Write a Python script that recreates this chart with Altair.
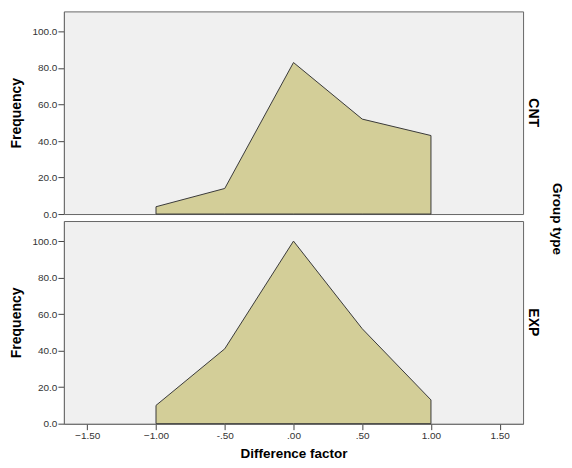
import altair as alt
import pandas as pd

# Data
diff_values = [-1.0, -0.5, 0.0, 0.5, 1.0]
cnt_freq = [4, 14, 83, 52, 43]
exp_freq = [10, 41, 100, 52, 13]
group_names = ["CNT", "EXP"]
x_ticks = [-1.5, -1.0, -0.5, 0.0, 0.5, 1.0, 1.5]
y_ticks = [0, 20, 40, 60, 80, 100]

rows = []
for g, series in zip(group_names, [cnt_freq, exp_freq]):
    for xv, yv in zip(diff_values, series):
        rows.append({"group": g, "diff": xv, "freq": yv})
df = pd.DataFrame(rows)

FONT = "Liberation Sans"

label_expr = (
    "datum.value == 0 ? '.00' : datum.value == 0.5 ? '.50' : "
    "datum.value == -0.5 ? '-.50' : format(datum.value, '.2f')"
)

base = alt.Chart(df).mark_area(
    color="#d3ce98",
    fill="#d3ce98",
    stroke="#3a3a3a",
    strokeWidth=1,
    opacity=1,
    interpolate="linear",
).encode(
    x=alt.X(
        "diff:Q",
        scale=alt.Scale(domain=[-1.67, 1.67], nice=False, zero=False),
        axis=alt.Axis(
            values=x_ticks,
            labelExpr=label_expr,
            title="Difference factor",
            grid=False,
            tickSize=6,
            labelPadding=1,
            titlePadding=6,
            domainColor="#222222",
            tickColor="#444444",
            labelColor="#333333",
            labelFont=FONT,
            labelFontSize=10,
            titleFont=FONT,
            titleFontSize=13.5,
            titleFontWeight="bold",
            titleColor="#000000",
        ),
    ),
    y=alt.Y(
        "freq:Q",
        scale=alt.Scale(domain=[0, 111], nice=False),
        axis=alt.Axis(
            values=y_ticks,
            format=".1f",
            title="Frequency",
            grid=False,
            tickSize=6,
            labelPadding=1,
            titlePadding=8,
            domainColor="#555555",
            tickColor="#444444",
            labelColor="#333333",
            labelFont=FONT,
            labelFontSize=10,
            titleFont=FONT,
            titleFontSize=14,
            titleFontWeight="bold",
            titleColor="#000000",
        ),
    ),
).properties(width=460, height=203)

chart = base.facet(
    row=alt.Row(
        "group:N",
        sort=group_names,
        title="Group type",
        header=alt.Header(
            labelOrient="right",
            labelAngle=90,
            labelPadding=3,
            labelFont=FONT,
            labelFontSize=14,
            labelFontWeight="bold",
            labelColor="#000000",
            titleOrient="right",
            titleAngle=90,
            titlePadding=0,
            titleFont=FONT,
            titleFontSize=13.5,
            titleFontWeight="bold",
            titleColor="#000000",
        ),
    ),
    spacing=7,
    bounds="flush",
).properties(
    padding={"left": 1, "top": 2, "right": 0, "bottom": 0},
    background="#ffffff",
).configure_facet(spacing=7).configure_view(
    fill="#f0f0f0", stroke="#666666", strokeWidth=1
)

chart.save("out.html", embed_options={"renderer": "svg", "actions": False})
